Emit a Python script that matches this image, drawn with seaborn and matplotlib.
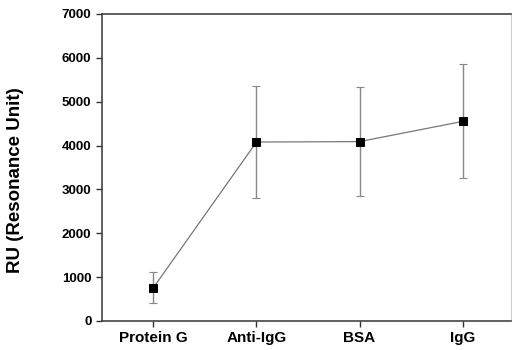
import matplotlib
matplotlib.use("Agg")
import matplotlib.pyplot as plt
import numpy as np
import pandas as pd
import seaborn as sns

# data
samples = ["Protein G", "Anti-IgG", "BSA", "IgG"]
ru_mean = [760, 4080, 4090, 4550]
ru_err = [350, 1270, 1250, 1300]

sns.set_style("ticks", {"text.color": "black", "xtick.color": "black",
                        "ytick.color": "black", "axes.labelcolor": "black"})
plt.rcParams['font.family'] = ['Liberation Sans', 'DejaVu Sans']

df = pd.DataFrame({"sample": samples, "ru": ru_mean, "err": ru_err})
pos = np.arange(len(samples))

fig = plt.figure(figsize=(5.12, 3.5), dpi=100)
ax = fig.add_axes([0.199, 0.083, 0.799, 0.877])

ax.errorbar(pos, df["ru"], yerr=df["err"], fmt="none", ecolor="#888888",
            elinewidth=1.0, capsize=3, capthick=0.8, zorder=2)
sns.lineplot(x=pos, y=df["ru"], ax=ax, color="#777777", linewidth=0.9,
             marker="s", markersize=5.5, markerfacecolor="black",
             markeredgecolor="black", zorder=3)

ax.set_xlim(-0.5, 3.47)
ax.set_ylim(0, 7000)
ax.set_yticks(range(0, 7001, 1000))
ax.set_xticks(pos)
ax.set_xticklabels(samples)
ax.set_xlabel("")
ax.set_ylabel("RU (Resonance Unit)", fontsize=13.5, fontweight="bold")
ax.yaxis.set_label_coords(-0.19, 0.46)
ax.tick_params(axis="both", length=4, width=1, color="#333333")
ax.tick_params(axis="y", labelsize=9.5)
ax.tick_params(axis="x", labelsize=11)
for lab in ax.get_xticklabels() + ax.get_yticklabels():
    lab.set_fontweight("bold")

for side in ["left", "bottom", "top"]:
    ax.spines[side].set_color("#444444")
    ax.spines[side].set_linewidth(1.2)
ax.spines["right"].set_color("#cccccc")
ax.spines["right"].set_linewidth(0.8)

fig.savefig("out.png", dpi=100)
